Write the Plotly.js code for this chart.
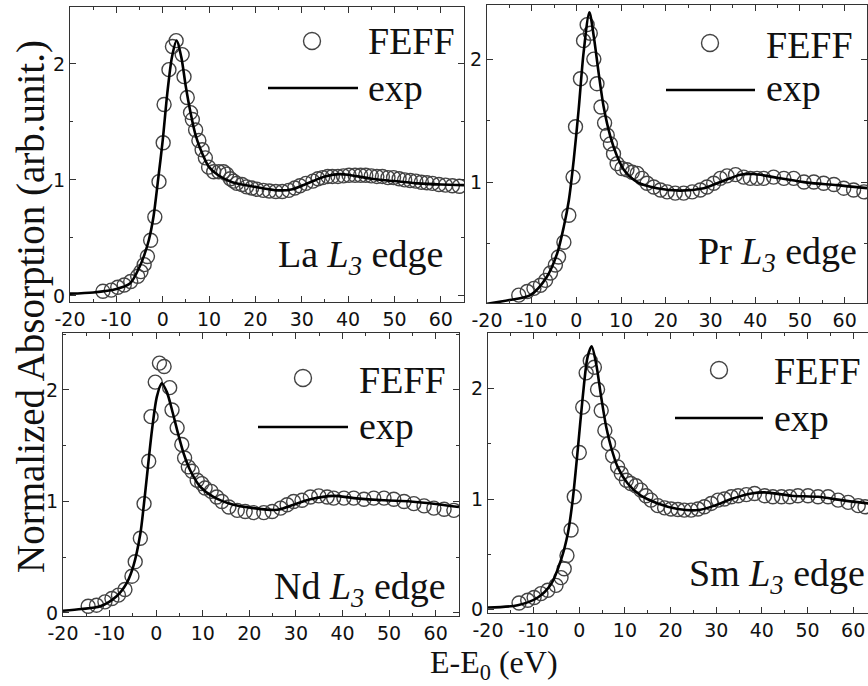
<!DOCTYPE html>
<html>
<head>
<meta charset="utf-8">
<script src="https://cdn.plot.ly/plotly-3.0.1.min.js"></script>
<style>
html,body{margin:0;padding:0;background:#fff;overflow:hidden;}
#wrap{width:868px;height:686px;overflow:hidden;}
#chart{width:880px;height:686px;}
</style>
</head>
<body>
<div id="wrap"><div id="chart"></div></div>
<script>
// ---------------- data ----------------
const xTickVals = [-20,-10,0,10,20,30,40,50,60];
const xTickText = ["-20","-10","0","10","20","30","40","50","60"];
const yTickVals = [0,1,2];
const yTickText = ["0","1","2"];

const panelNames = ["La", "Pr", "Nd", "Sm"];

// La L3 edge
const laExpX = [-20,-15,-10,-7,-5,-4,-3,-2,-1,0,1,2,3,4,5,6,7,8,10,12,15,20,25,28,30,33,35,38,40,45,50,55,60,65];
const laExpY = [0.02,0.03,0.06,0.11,0.25,0.35,0.48,0.68,1.0,1.34,1.75,2.06,2.2,2.06,1.8,1.58,1.4,1.28,1.11,1.04,0.98,0.94,0.91,0.92,0.95,1.0,1.03,1.05,1.045,1.01,0.99,0.97,0.96,0.955];
const laFeffX = [-12.9,-11.1,-9.7,-8.3,-6.9,-5.4,-4.7,-4.0,-3.3,-2.6,-1.7,-0.8,0.1,0.3,1.35,2.1,2.9,4.2,4.6,5.3,6.0,6.4,7.1,7.8,8.5,9.2,9.9,11.0,12.1,13.1,13.8,14.6,15.3,16.0,17.1,18.1,19.2,20.3,21.7,23.0,24.4,25.8,27.2,28.5,29.6,30.9,32.4,33.5,34.5,35.6,36.6,37.8,39.0,40.2,41.5,42.7,43.8,45.0,46.2,47.4,48.6,49.8,51.0,52.2,53.4,54.6,55.8,57.0,58.2,59.6,61.0,62.5,64.0];
const laFeffY = [0.04,0.05,0.075,0.095,0.125,0.17,0.21,0.27,0.34,0.48,0.68,0.985,1.32,1.65,1.95,2.15,2.2,2.08,1.89,1.71,1.58,1.52,1.43,1.34,1.26,1.19,1.11,1.07,1.07,1.07,1.05,1.01,0.99,0.97,0.96,0.94,0.93,0.92,0.91,0.905,0.9,0.9,0.91,0.93,0.95,0.97,0.99,1.01,1.02,1.03,1.03,1.03,1.035,1.04,1.04,1.04,1.04,1.035,1.03,1.03,1.02,1.02,1.01,1.0,0.995,0.99,0.98,0.975,0.97,0.96,0.955,0.95,0.945];

// Pr L3 edge
const prExpX = [-20,-15,-10.3,-6.6,-4.3,-2.8,-1.7,-0.6,0.5,1.6,2.9,3.9,5.0,6.1,7.6,9.1,10.6,13.6,18,23.3,28.5,32.2,36.7,39.7,45.6,51.6,58.3,65];
const prExpY = [0.01,0.04,0.08,0.23,0.42,0.64,0.85,1.18,1.59,2.05,2.38,2.18,1.88,1.61,1.37,1.21,1.10,1.0,0.95,0.93,0.95,1.0,1.06,1.065,1.03,0.995,0.975,0.95];
const prFeffX = [-12.9,-11.0,-9.5,-8.05,-6.9,-5.8,-4.7,-4.0,-2.8,-1.7,-0.75,-0.2,0.9,1.6,2.4,3.1,3.9,4.6,5.5,6.3,6.9,7.6,8.3,9.1,10.2,11.3,12.5,13.6,14.7,15.8,17.3,18.8,20.3,22.1,24.0,25.9,27.7,29.2,30.7,32.2,33.7,35.6,37.4,38.9,40.4,41.9,44.1,46.4,48.6,50.9,53.1,55.3,57.6,59.8,62.0,64.3];
const prFeffY = [0.08,0.11,0.135,0.16,0.2,0.26,0.325,0.39,0.51,0.73,1.04,1.45,1.84,2.15,2.28,2.21,2.0,1.8,1.61,1.48,1.38,1.31,1.23,1.15,1.11,1.10,1.08,1.07,1.03,0.99,0.96,0.935,0.92,0.91,0.91,0.92,0.935,0.96,0.99,1.03,1.05,1.06,1.04,1.03,1.03,1.03,1.04,1.03,1.03,1.0,1.0,0.99,0.98,0.95,0.935,0.92];

// Nd L3 edge
const ndExpX = [-20,-16,-12,-8.5,-6.3,-4.9,-3.4,-2.7,-2.0,-0.9,0.15,1.2,2.3,3.4,4.5,5.9,7.3,9.5,12.3,16.6,20.9,26,29.5,33.1,38.1,42.4,48.9,54.6,59.6,65];
const ndExpY = [0.02,0.035,0.06,0.15,0.27,0.42,0.71,0.95,1.22,1.64,1.94,2.06,1.98,1.82,1.64,1.43,1.28,1.13,1.04,0.97,0.94,0.925,0.97,1.02,1.05,1.03,1.01,1.0,0.98,0.95];
const ndFeffX = [-14.6,-12.8,-11.0,-9.5,-8.1,-6.7,-5.2,-4.5,-3.4,-2.6,-1.6,-1.1,-0.2,0.7,1.7,2.9,3.4,4.5,5.5,6.1,6.9,7.7,8.8,9.8,10.5,11.8,13.0,14.1,15.6,17.4,19.1,20.9,23.1,24.9,26.7,28.1,29.5,31.3,33.1,34.9,36.7,38.1,40.3,42.4,44.6,46.7,48.9,51.0,53.2,55.3,57.5,59.6,61.8,63.9];
const ndFeffY = [0.06,0.07,0.10,0.13,0.16,0.21,0.33,0.46,0.67,0.98,1.36,1.76,2.07,2.24,2.21,2.02,1.82,1.66,1.51,1.39,1.31,1.27,1.19,1.16,1.12,1.09,1.04,1.0,0.95,0.92,0.91,0.90,0.90,0.91,0.94,0.97,1.0,1.01,1.04,1.05,1.04,1.03,1.03,1.03,1.02,1.03,1.03,1.02,1.0,0.98,0.96,0.94,0.93,0.92];

// Sm L3 edge
const smExpX = [-20,-13.5,-9.1,-6.2,-4.0,-2.5,-1.45,-0.35,0.75,1.8,2.7,3.7,4.8,5.9,6.95,8.4,10.6,13.5,17.2,21.6,26,29.6,33.3,37.7,40.6,46.5,52.3,57.4,63.3,65];
const smExpY = [0.02,0.04,0.11,0.23,0.45,0.69,0.99,1.44,1.92,2.28,2.38,2.22,1.92,1.65,1.47,1.29,1.14,1.03,0.96,0.91,0.90,0.94,1.0,1.05,1.06,1.03,1.02,0.99,0.96,0.955];
const smFeffX = [-13.2,-11.3,-9.9,-8.4,-6.9,-5.1,-4.0,-3.3,-2.7,-1.8,-1.1,0.0,0.75,1.5,2.4,3.3,4.0,4.8,5.6,6.4,7.3,8.4,9.2,10.3,11.3,12.4,13.5,14.6,15.7,17.2,18.7,20.1,21.6,23.0,24.5,26.0,27.4,28.9,30.4,31.8,33.3,34.8,36.6,38.4,40.6,42.4,44.3,46.1,47.9,50.1,52.3,54.5,56.7,58.9,61.1,62.6];
const smFeffY = [0.06,0.085,0.11,0.145,0.175,0.22,0.29,0.37,0.49,0.72,1.02,1.42,1.83,2.14,2.25,2.19,1.99,1.80,1.62,1.5,1.39,1.29,1.23,1.17,1.14,1.12,1.08,1.03,0.99,0.94,0.92,0.91,0.905,0.90,0.90,0.91,0.93,0.96,0.99,1.0,1.02,1.03,1.04,1.05,1.03,1.02,1.02,1.02,1.03,1.03,1.02,1.02,0.99,0.97,0.94,0.93];

const expX = [laExpX, prExpX, ndExpX, smExpX];
const expY = [laExpY, prExpY, ndExpY, smExpY];
const feffX = [laFeffX, prFeffX, ndFeffX, smFeffX];
const feffY = [laFeffY, prFeffY, ndFeffY, smFeffY];

// ---------------- layout geometry (pixels) ----------------
const W = 880, H = 686;
const fx = px => px / W;
const fy = py => 1 - py / H;

const boxes = [
  {l:70,  r:464, t:7,   b:302, yr:[-0.052, 2.49]},
  {l:487, r:867, t:5,   b:303, yr:[0.016, 2.44]},
  {l:63,  r:459, t:333, b:616, yr:[-0.027, 2.51]},
  {l:488, r:876, t:333, b:613, yr:[-0.03, 2.5]}
];
const legendPos = [
  {cx:312, cy:41, tx:367, fy:41, l0:268, l1:358, ly:88, ey:88, edx:277, edy:257},
  {cx:710, cy:43, tx:765, fy:45, l0:666, l1:755, ly:90, ey:88, edx:697, edy:254},
  {cx:303, cy:378, tx:358, fy:380, l0:258, l1:348, ly:427, ey:426, edx:273, edy:589},
  {cx:719, cy:370, tx:773, fy:371, l0:675, l1:763, ly:418, ey:418, edx:688, edy:576}
];

const axisCol = '#333';
const tickFont = {family:'DejaVu Sans', size:19, color:'#111'};
const serif = 'Liberation Serif, Times New Roman, serif';

const traces = [];
const layout = {
  width: W, height: H,
  margin: {l:0, r:0, t:0, b:0},
  paper_bgcolor: '#fff', plot_bgcolor: '#fff',
  showlegend: false,
  shapes: [], annotations: []
};

for (let i = 0; i < 4; i++) {
  const s = i === 0 ? '' : String(i + 1);
  const bx = boxes[i];
  traces.push({
    x: feffX[i], y: feffY[i], xaxis: 'x' + s, yaxis: 'y' + s,
    type: 'scatter', mode: 'markers', name: 'FEFF',
    marker: {symbol: 'circle-open', size: 14, color: '#444', line: {width: 1.4, color: '#444'}},
    cliponaxis: true
  });
  traces.push({
    x: expX[i], y: expY[i], xaxis: 'x' + s, yaxis: 'y' + s,
    type: 'scatter', mode: 'lines', name: 'exp',
    line: {color: '#000', width: 2.6, shape: 'spline', smoothing: 0.8}
  });
  layout['xaxis' + s] = {
    domain: [fx(bx.l), fx(bx.r)], range: [-20, 65], anchor: 'y' + s,
    showline: true, linecolor: axisCol, linewidth: 1, mirror: 'allticks',
    ticks: 'inside', ticklen: 6, tickwidth: 1, tickcolor: axisCol,
    tickmode: 'array', tickvals: xTickVals, ticktext: xTickText,
    minor: {tickmode: 'linear', tick0: 0, dtick: 5, ticks: 'inside', ticklen: 3, tickcolor: axisCol},
    showgrid: false, zeroline: false, tickfont: tickFont, ticklabelstandoff: 0, fixedrange: true
  };
  layout['yaxis' + s] = {
    domain: [fy(bx.b), fy(bx.t)], range: bx.yr, anchor: 'x' + s,
    showline: true, linecolor: axisCol, linewidth: 1, mirror: 'allticks',
    ticks: 'inside', ticklen: 6, tickwidth: 1, tickcolor: axisCol,
    tickmode: 'array', tickvals: yTickVals, ticktext: yTickText,
    minor: {tickmode: 'linear', tick0: 0, dtick: 0.5, ticks: 'inside', ticklen: 3, tickcolor: axisCol},
    showgrid: false, zeroline: false, tickfont: tickFont, ticklabelstandoff: 0, fixedrange: true
  };

  const lp = legendPos[i];
  layout.shapes.push({
    type: 'circle', xref: 'paper', yref: 'paper',
    xsizemode: 'pixel', ysizemode: 'pixel',
    xanchor: fx(lp.cx), yanchor: fy(lp.cy),
    x0: -8.5, x1: 8.5, y0: -8.5, y1: 8.5,
    line: {color: '#444', width: 1.4}
  });
  layout.shapes.push({
    type: 'line', xref: 'paper', yref: 'paper',
    x0: fx(lp.l0), x1: fx(lp.l1), y0: fy(lp.ly), y1: fy(lp.ly),
    line: {color: '#000', width: 2.6}
  });
  const ann = (text, px, py) => ({
    text: text, xref: 'paper', yref: 'paper', x: fx(px), y: fy(py),
    xanchor: 'left', yanchor: 'middle', showarrow: false, borderpad: 0,
    font: {family: serif, size: 38, color: '#111'}
  });
  layout.annotations.push(ann('FEFF', lp.tx, lp.fy));
  layout.annotations.push(ann('exp', lp.tx, lp.ey));
  layout.annotations.push(ann(panelNames[i] + ' <i>L</i><sub><i>3</i></sub> edge', lp.edx, lp.edy));
}

layout.annotations.push({
  text: 'Normalized Absorption (arb.unit.)', xref: 'paper', yref: 'paper',
  x: fx(31), y: fy(307), xanchor: 'center', yanchor: 'middle', textangle: -90,
  showarrow: false, borderpad: 0, font: {family: serif, size: 39, color: '#111'}
});
layout.annotations.push({
  text: 'E-E<sub>0</sub> (eV)', xref: 'paper', yref: 'paper',
  x: fx(494), y: 0, xanchor: 'center', yanchor: 'bottom',
  showarrow: false, borderpad: 0, font: {family: serif, size: 32, color: '#111'}
});

Plotly.newPlot('chart', traces, layout, {displayModeBar: false, staticPlot: true});
</script>
</body>
</html>
